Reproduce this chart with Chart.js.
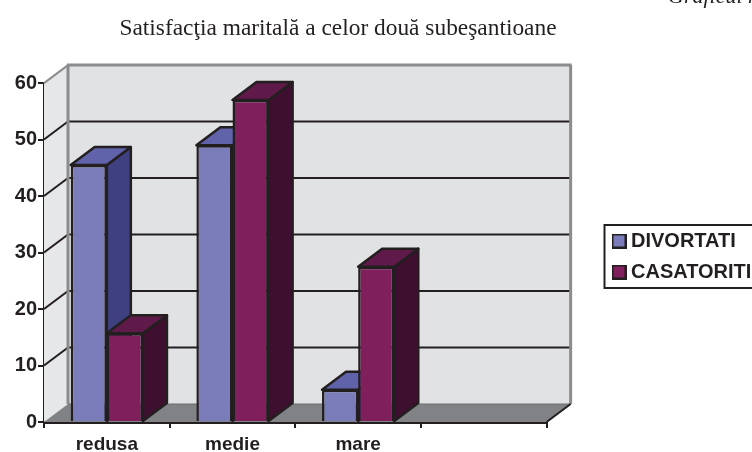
<!DOCTYPE html>
<html><head><meta charset="utf-8">
<style>html,body{margin:0;padding:0;background:#fff}#w{width:752px;height:452px;overflow:hidden}</style>
<script src="https://cdn.jsdelivr.net/npm/chart.js@4"></script>
</head><body><div id="w"><canvas id="c" width="752" height="452"></canvas></div>
<script>
const categories = ['redusa', 'medie', 'mare', ''];
const divortati = [45.5, 49, 5.7, null];
const casatoriti = [15.7, 57, 27.5, null];
const yTicks = [0, 10, 20, 30, 40, 50, 60];
const titleText = 'Satisfacţia maritală a celor două subeşantioane';
const cornerText = 'Graficul nr';

const DX = 24, DY = 18;
const INK = '#231f20', WALL = '#e1e2e4', FLOOR = '#808285', EDGE = '#8a8c8e';
const shades = [
  { front: '#7a7db9', side: '#3f4080', top: '#6063a9' },
  { front: '#7f1f5c', side: '#3e0f2e', top: '#5f1a4a' }
];

function swatch(color) {
  const c = document.createElement('canvas');
  c.width = 15; c.height = 15;
  const g = c.getContext('2d');
  g.fillStyle = INK; g.fillRect(0, 0, 15, 15);
  g.fillStyle = color; g.fillRect(2, 2, 11, 11);
  return c;
}
function poly(ctx, pts, fill, stroke, lw) {
  ctx.beginPath();
  pts.forEach((p, i) => i ? ctx.lineTo(p[0], p[1]) : ctx.moveTo(p[0], p[1]));
  ctx.closePath();
  if (fill) { ctx.fillStyle = fill; ctx.fill(); }
  if (stroke) { ctx.strokeStyle = stroke; ctx.lineWidth = lw; ctx.lineJoin = 'round'; ctx.stroke(); }
}
function seg(ctx, x1, y1, x2, y2, color, lw) {
  ctx.beginPath(); ctx.moveTo(x1, y1); ctx.lineTo(x2, y2);
  ctx.strokeStyle = color; ctx.lineWidth = lw; ctx.stroke();
}

const scene3d = {
  id: 'scene3d',
  afterLayout(chart) {
    const lg = chart.legend;
    const w = lg.right - lg.left;
    lg.left = 606; lg.right = lg.left + w;
    const h = lg.bottom - lg.top;
    lg.top = 220; lg.bottom = lg.top + h;
    chart.titleBlock.left = 0; chart.titleBlock.right = 676;
  },
  beforeDatasetsDraw(chart) {
    const { ctx, chartArea: a, scales: { x, y } } = chart;
    ctx.save();
    poly(ctx, [[a.left + DX, a.top - DY], [a.right + DX, a.top - DY], [a.right + DX, a.bottom - DY], [a.left + DX, a.bottom - DY]], WALL);
    poly(ctx, [[a.left, a.top], [a.left + DX, a.top - DY], [a.left + DX, a.bottom - DY], [a.left, a.bottom]], '#e6e7e8');
    poly(ctx, [[a.left, a.bottom], [a.left + DX, a.bottom - DY], [a.right + DX, a.bottom - DY], [a.right, a.bottom]], FLOOR);
    yTicks.forEach(v => {
      if (v === 0 || v === 60) return;
      const py = y.getPixelForValue(v);
      seg(ctx, a.left, py, a.left + DX, py - DY, INK, 2);
      seg(ctx, a.left + DX, py - DY, a.right + DX, py - DY, INK, 2);
    });
    seg(ctx, a.left, a.top, a.left + DX, a.top - DY, EDGE, 2);
    seg(ctx, a.left + DX - 1, a.top - DY, a.right + DX + 1, a.top - DY, EDGE, 3);
    seg(ctx, a.left + DX, a.top - DY, a.left + DX, a.bottom - DY, EDGE, 3);
    seg(ctx, a.right + DX, a.top - DY, a.right + DX, a.bottom - DY, EDGE, 3);
    seg(ctx, a.left + DX, a.bottom - DY, a.right + DX, a.bottom - DY, '#6d6e71', 1);
    seg(ctx, a.right, a.bottom, a.right + DX, a.bottom - DY, INK, 2);
    [0, 1].forEach(di => {
      const meta = chart.getDatasetMeta(di);
      meta.data.forEach((b, i) => {
        const val = chart.data.datasets[di].data[i];
        if (val === null) return;
        const l = b.x - b.width / 2, r = b.x + b.width / 2, t = b.y, bt = b.base;
        poly(ctx, [[r, t], [r + DX, t - DY], [r + DX, bt - DY], [r, bt]], shades[di].side, INK, 2.5);
        poly(ctx, [[l, t], [l + DX, t - DY], [r + DX, t - DY], [r, t]], shades[di].top, INK, 2.5);
      });
    });
    ctx.restore();
  },
  afterDraw(chart) {
    const { ctx } = chart;
    ctx.save();
    ctx.strokeStyle = INK; ctx.lineWidth = 2;
    ctx.strokeRect(604.5, 225, 170, 63);
    ctx.font = 'italic 22px "Liberation Serif"';
    ctx.fillStyle = INK; ctx.textBaseline = 'alphabetic'; ctx.textAlign = 'left';
    ctx.fillText(cornerText, 668, 3);
    ctx.restore();
  }
};

new Chart(document.getElementById('c'), {
  type: 'bar',
  data: {
    labels: categories,
    datasets: [
      { label: 'DIVORTATI', data: divortati, backgroundColor: shades[0].front, borderColor: INK, borderWidth: 2.5, pointStyle: swatch(shades[0].front) },
      { label: 'CASATORITI', data: casatoriti, backgroundColor: shades[1].front, borderColor: INK, borderWidth: 2.5, pointStyle: swatch(shades[1].front) }
    ]
  },
  options: {
    responsive: false,
    animation: false,
    layout: { padding: { left: 0, right: 50, top: 0, bottom: 0 } },
    datasets: { bar: { categoryPercentage: 0.575, barPercentage: 1 } },
    plugins: {
      tooltip: { enabled: false },
      title: {
        display: true, text: titleText, color: INK,
        font: { family: '"Liberation Serif"', size: 23.4, weight: 'normal' },
        padding: { top: 15, bottom: 40 }
      },
      legend: {
        position: 'right',
        align: 'start',
        onClick: null,
        labels: { color: INK, usePointStyle: true, pointStyleWidth: 4, padding: 11,
          font: { family: '"Liberation Sans"', size: 20, weight: 'bold' } }
      }
    },
    scales: {
      x: {
        afterFit: s => { s.height = 30; },
        grid: { offset: true, drawOnChartArea: false, drawTicks: true, tickLength: 6, color: INK, lineWidth: 2 },
        border: { color: INK, width: 3 },
        ticks: { color: INK, padding: 5, autoSkip: false, maxRotation: 0,
          font: { family: '"Liberation Sans"', size: 19, weight: 'bold' } }
      },
      y: {
        min: 0, max: 60,
        afterFit: s => { s.width = 44; },
        grid: { drawOnChartArea: false, drawTicks: true, tickLength: 6, color: INK, lineWidth: 2 },
        border: { color: INK, width: 2.5 },
        ticks: { color: INK, stepSize: 10, padding: 1,
          font: { family: '"Liberation Sans"', size: 20, weight: 'bold' } }
      }
    }
  },
  plugins: [scene3d]
});
</script></body></html>
